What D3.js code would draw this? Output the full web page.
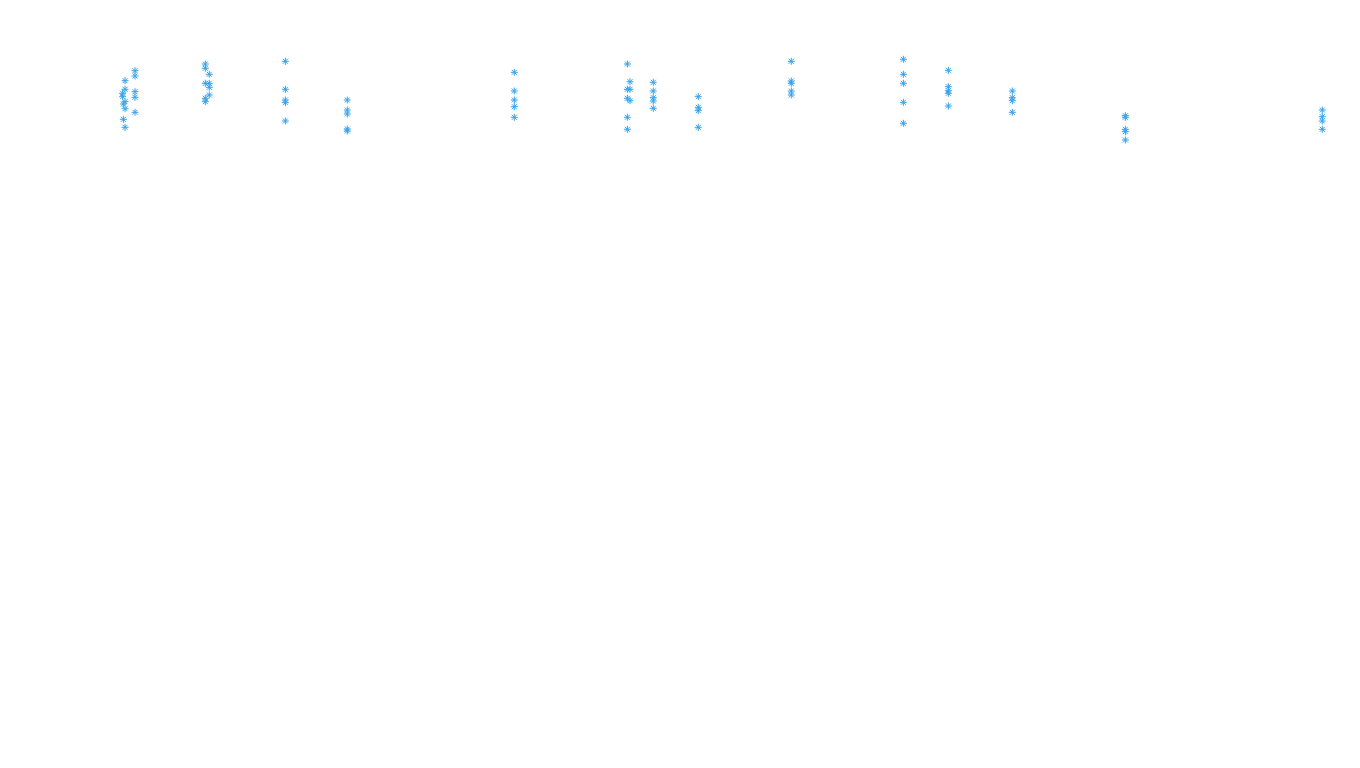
<!DOCTYPE html>
<html>
<head>
<meta charset="utf-8">
<script src="https://cdn.jsdelivr.net/npm/d3@7"></script>
<style>
  html, body { margin: 0; padding: 0; background: #ffffff; }
  svg { display: block; }
</style>
</head>
<body>
<svg id="chart" width="1360" height="768"></svg>
<script>
// Series data: x value and y value of each point
const xValues = [
  0.42, 1.25, 1.25, 0.42, 0.22, 0.22, 0.42, 0.28, 0.42, 1.25, 1.25, 1.25, 0.28, 0.42,
  7.11, 7.11, 7.44, 7.11, 7.44, 7.44, 7.44, 7.11, 7.11,
  13.78, 13.78, 13.78, 13.78, 13.78,
  18.94, 18.94, 18.94, 18.94, 18.94,
  32.86, 32.86, 32.86, 32.86, 32.86,
  42.28, 42.5, 42.28, 42.5, 42.28, 42.5, 42.28, 42.28,
  44.44, 44.44, 44.44, 44.44, 44.44,
  48.19, 48.19, 48.19, 48.19,
  55.94, 55.94, 55.94, 55.94, 55.94,
  65.28, 65.28, 65.28, 65.28, 65.28,
  69.03, 69.03, 69.03, 69.03, 69.03,
  74.36, 74.36, 74.36, 74.36,
  83.78, 83.78, 83.78, 83.78, 83.78,
  100.19, 100.19, 100.19, 100.19
];
const yValues = [
  69.3, 79.3, 74.0, 60.7, 56.7, 53.3, 48.3, 46.0, 41.3, 58.3, 52.7, 37.7, 30.7, 22.7,
  86.0, 81.7, 75.7, 66.7, 66.7, 62.7, 55.0, 51.7, 48.3,
  88.7, 60.7, 50.0, 47.3, 29.0,
  50.0, 40.0, 36.0, 21.0, 19.0,
  77.7, 59.0, 50.0, 43.3, 32.7,
  86.0, 68.3, 60.7, 60.7, 51.7, 49.3, 32.7, 20.7,
  67.7, 59.0, 52.3, 49.0, 41.7,
  53.3, 42.7, 39.3, 22.7,
  88.7, 69.0, 66.7, 59.0, 55.0,
  90.7, 75.7, 66.7, 47.7, 26.7,
  79.7, 63.3, 59.3, 56.7, 44.0,
  59.0, 52.3, 49.3, 37.7,
  34.3, 32.7, 20.7, 18.3, 10.0,
  40.0, 33.3, 29.0, 20.7
];
const xDomain = [0, 100];
const yDomain = [0, 100];

const svg = d3.select("#chart");
const x = d3.scaleLinear().domain(xDomain).range([120, 1320]);
const y = d3.scaleLinear().domain(yDomain).range([150, 50]);

const points = xValues.map((v, i) => ({ x: v, y: yValues[i] }));

const r = 3.5;
const d = r * Math.SQRT1_2;
const starPath = `M${-r},0L${r},0M0,${-r}L0,${r}M${-d},${-d}L${d},${d}M${-d},${d}L${d},${-d}`;

svg.append("g")
  .selectAll("path")
  .data(points)
  .join("path")
  .attr("transform", p => `translate(${x(p.x)},${y(p.y)})`)
  .attr("d", starPath)
  .attr("fill", "none")
  .attr("stroke", "rgb(54,162,235)")
  .attr("stroke-width", 1);
</script>
</body>
</html>
